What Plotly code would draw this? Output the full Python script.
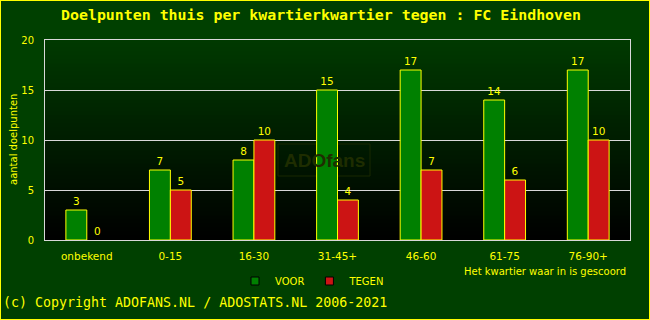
import plotly.graph_objects as go

categories = ["onbekend", "0-15", "16-30", "31-45+", "46-60", "61-75", "76-90+"]
voor = [3, 7, 8, 15, 17, 14, 17]
tegen = [0, 5, 10, 4, 7, 6, 10]
y_ticks = [0, 5, 10, 15, 20]

W, H = 650, 320
ML, MR, MT, MB = 45, 20, 40, 80
PW, PH = W - ML - MR, H - MT - MB

YEL = "#ffff00"
BG = "#004000"

def px_x(p):
    return (p - ML) / PW

def px_y(p):
    return (H - MB - p) / PH

def outline_widths(vals):
    return [1 if v > 0 else 0 for v in vals]

fig = go.Figure()
fig.add_trace(go.Bar(
    x=categories, y=voor, name="VOOR",
    marker=dict(color="#008000", line=dict(color=YEL, width=outline_widths(voor))),
    text=[str(v) for v in voor], textposition="outside", cliponaxis=False,
    outsidetextfont=dict(color=YEL, size=10.5, family="DejaVu Sans"), showlegend=False,
))
fig.add_trace(go.Bar(
    x=categories, y=tegen, name="TEGEN",
    marker=dict(color="#cc1414", line=dict(color=YEL, width=outline_widths(tegen))),
    text=[str(v) for v in tegen], textposition="outside", cliponaxis=False,
    outsidetextfont=dict(color=YEL, size=10.5, family="DejaVu Sans"), showlegend=False,
))
# legend entries
for nm, col in [("VOOR", "#008000"), ("TEGEN", "#cc1414")]:
    fig.add_trace(go.Scatter(
        x=[None], y=[None], mode="markers", name=nm,
        marker=dict(symbol="square", size=8, color=col, line=dict(color="black", width=1)),
    ))

shapes = []
# gradient plot background
N = 50
top = (0, 58, 0)
bot = (0, 0, 0)
for i in range(N):
    t = (i + 0.5) / N
    c = tuple(int(round(top[k] * (1 - t) + bot[k] * t)) for k in range(3))
    shapes.append(dict(type="rect", xref="paper", yref="paper",
                       x0=0, x1=1, y0=1 - (i + 1) / N, y1=1 - i / N + 0.001,
                       fillcolor="rgb(%d,%d,%d)" % c, line=dict(width=0), layer="below"))
# watermark box
shapes.append(dict(type="rect", xref="paper", yref="paper",
                   x0=px_x(278), x1=px_x(370), y0=px_y(176), y1=px_y(144),
                   line=dict(color="rgb(24,40,0)", width=1), fillcolor="rgba(0,0,0,0)", layer="below"))
# outer yellow border
shapes.append(dict(type="rect", xref="paper", yref="paper",
                   x0=px_x(0), x1=px_x(W), y0=px_y(H), y1=px_y(0),
                   line=dict(color=YEL, width=2), fillcolor="rgba(0,0,0,0)"))

annotations = [
    dict(text="<b>ADOfans</b>", xref="paper", yref="paper", x=px_x(324), y=px_y(160),
         showarrow=False, font=dict(family="Liberation Sans", size=19, color="rgb(30,45,0)"),
         xanchor="center", yanchor="middle"),
    dict(text="Het kwartier waar in is gescoord", xref="paper", yref="paper",
         x=px_x(628), y=px_y(271), xanchor="right", yanchor="middle", showarrow=False,
         font=dict(family="DejaVu Sans", size=10, color=YEL)),
    dict(text="(c) Copyright ADOFANS.NL / ADOSTATS.NL 2006-2021", xref="paper", yref="paper",
         x=px_x(1), y=px_y(302), xanchor="left", yanchor="middle", showarrow=False,
         font=dict(family="DejaVu Sans Mono", size=13.3, color=YEL)),
    dict(text="aantal doelpunten", xref="paper", yref="paper", x=px_x(13), y=px_y(140),
         textangle=-90, xanchor="center", yanchor="middle", showarrow=False,
         font=dict(family="DejaVu Sans", size=10, color=YEL)),
]

fig.update_layout(
    width=W, height=H,
    margin=dict(l=ML, r=MR, t=MT, b=MB, autoexpand=False),
    paper_bgcolor=BG, plot_bgcolor="black",
    title=dict(text="<b>Doelpunten thuis per kwartierkwartier tegen : FC Eindhoven</b>",
               x=px_x(321), xanchor="center", xref="paper", y=1 - 15 / H, yanchor="middle",
               font=dict(family="DejaVu Sans Mono", size=14.9, color=YEL)),
    barmode="group", bargap=0.5, bargroupgap=0,
    showlegend=True,
    legend=dict(orientation="h", x=px_x(235), y=px_y(281), xanchor="left", yanchor="middle",
                font=dict(family="DejaVu Sans", size=10, color=YEL), bgcolor="rgba(0,0,0,0)",
                itemwidth=30, traceorder="normal"),
    shapes=shapes, annotations=annotations,
    font=dict(family="DejaVu Sans", color=YEL, size=10),
)
fig.update_xaxes(showgrid=False, showline=True, linecolor="#d8d8d8", linewidth=1, mirror=True,
                 ticks="outside", ticklen=6, tickcolor="rgba(0,0,0,0)", automargin=False,
                 tickfont=dict(family="DejaVu Sans", size=10.5, color=YEL), fixedrange=True)
fig.update_yaxes(range=[0, 20], tickvals=y_ticks, showgrid=True, gridcolor="#d8d8d8", gridwidth=1,
                 showline=True, linecolor="#d8d8d8", linewidth=1, mirror=True, zeroline=False,
                 ticks="outside", ticklen=8, tickcolor="rgba(0,0,0,0)", automargin=False,
                 tickfont=dict(family="DejaVu Sans", size=10, color=YEL))

fig.write_html("out.html")
